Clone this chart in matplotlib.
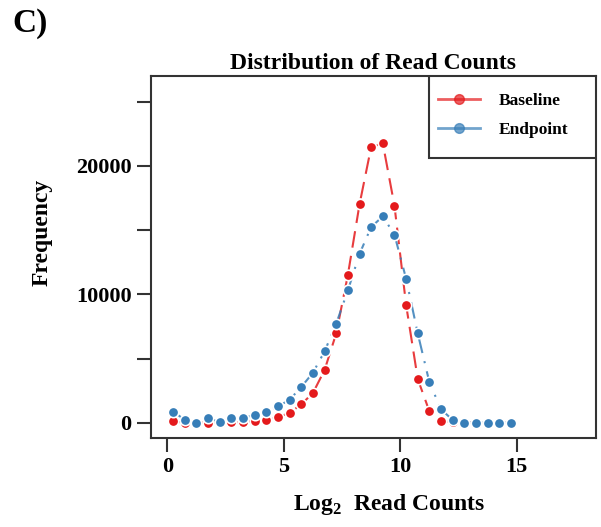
"""Distribution of read counts, baseline vs endpoint."""

import matplotlib
import matplotlib.pyplot as plt
from matplotlib.lines import Line2D
from matplotlib.patches import Rectangle

matplotlib.use("Agg")

plt.rcParams["font.family"] = ["Liberation Serif", "DejaVu Serif"]
plt.rcParams["font.weight"] = "bold"
plt.rcParams["mathtext.fontset"] = "custom"
plt.rcParams["mathtext.bf"] = "Liberation Serif:bold"
plt.rcParams["mathtext.rm"] = "Liberation Serif:bold"

# Bin centres (log2 read counts)
bin_centres = [0.25, 0.75, 1.25, 1.75, 2.25, 2.75, 3.25, 3.75, 4.25, 4.75,
               5.25, 5.75, 6.25, 6.75, 7.25, 7.75, 8.25, 8.75, 9.25, 9.75,
               10.25, 10.75, 11.25, 11.75, 12.25, 12.75, 13.25, 13.75, 14.25, 14.75]

baseline = [100, 0, 0, 0, 0, 50, 50, 130, 210, 440,
            760, 1430, 2310, 4100, 6950, 11500, 17000, 21470, 21750, 16900,
            9170, 3400, 880, 130, 30, 0, 0, 0, 0, 0]

endpoint = [860, 230, 0, 330, 80, 390, 390, 600, 830, 1270,
            1790, 2780, 3890, 5550, 7710, 10300, 13140, 15240, 16070, 14640,
            11210, 6950, 3140, 1040, 210, 0, 0, 0, 0, 0]

x_ticks = [0, 5, 10, 15]
y_ticks = [0, 5000, 10000, 15000, 20000, 25000]
y_tick_labels = ["0", "", "10000", "", "20000", ""]

red = "#e41a1c"
blue = "#377eb8"
frame_color = "#333333"

fig = plt.figure(figsize=(6.01, 5.27), dpi=100)
ax = fig.add_axes([0.2512, 0.1689, 0.7405, 0.6869])

ax.plot(bin_centres, baseline, linestyle=(0, (8, 4)), color=red, linewidth=1.5,
        alpha=0.85, zorder=2)
ax.plot(bin_centres, endpoint, linestyle=(0, (8, 4, 1, 4)), color=blue, linewidth=1.5,
        alpha=0.85, zorder=2)
ax.plot(bin_centres, baseline, "o", color=red, markersize=7.5,
        markeredgecolor="white", markeredgewidth=1.2, zorder=3)
ax.plot(bin_centres, endpoint, "o", color=blue, markersize=7.5,
        markeredgecolor="white", markeredgewidth=1.2, zorder=4)

ax.set_xlim(-0.7, 18.4)
ax.set_ylim(-1190, 27000)
ax.set_xticks(x_ticks)
ax.set_yticks(y_ticks)
ax.set_yticklabels(y_tick_labels)
ax.tick_params(axis="both", labelsize=16, length=10, width=1.5, color=frame_color, pad=4)

for spine in ax.spines.values():
    spine.set_color(frame_color)
    spine.set_linewidth(1.5)

ax.set_xlabel("Log$_\\mathbf{2}$  Read Counts", fontsize=17, fontweight="bold")
ax.xaxis.set_label_coords(0.535, -0.185)
ax.xaxis.label.set_va("center")
ax.set_ylabel("Frequency", fontsize=17, fontweight="bold")
ax.yaxis.set_label_coords(-0.245, 0.569)
ax.yaxis.label.set_va("center")
ax.set_title("Distribution of Read Counts", fontsize=17, fontweight="bold", pad=5)

# legend box flush with the top-right corner
ax.add_patch(Rectangle((0.625, 0.7735), 0.375, 0.2265, transform=ax.transAxes,
                       facecolor="white", edgecolor=frame_color, linewidth=1.5,
                       zorder=5))

handles = [
    Line2D([0], [0], color=red, alpha=0.7, linewidth=2, marker="o",
           markerfacecolor=red, markeredgecolor=red, markersize=7),
    Line2D([0], [0], color=blue, alpha=0.7, linewidth=2, marker="o",
           markerfacecolor=blue, markeredgecolor=blue, markersize=7),
]
leg = ax.legend(handles, ["Baseline", "Endpoint"], loc="upper left",
                bbox_to_anchor=(0.633, 0.968), borderaxespad=0, frameon=False,
                fontsize=12.5, handlelength=2.4, handletextpad=1.1,
                borderpad=0.3, labelspacing=0.75)
leg.set_zorder(6)
for text in leg.get_texts():
    text.set_fontweight("bold")

fig.text(0.02, 0.985, "C)", fontsize=24, fontweight="bold", va="top", ha="left")

fig.savefig("out.png", dpi=100)
